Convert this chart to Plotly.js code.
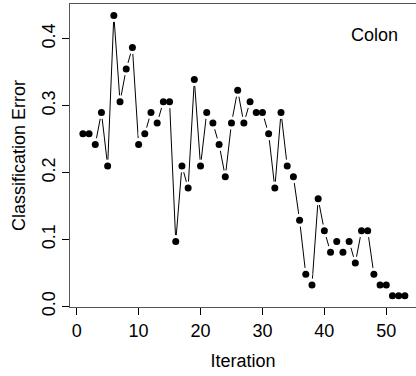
<!DOCTYPE html>
<html>
<head>
<meta charset="utf-8">
<script src="https://cdn.plot.ly/plotly-3.0.1.min.js"></script>
<style>html,body{margin:0;padding:0;background:#fff;}#chart{width:416px;height:376px;}</style>
</head>
<body>
<div id="chart"></div>
<script>
const iteration = [1,2,3,4,5,6,7,8,9,10,11,12,13,14,15,16,17,18,19,20,21,22,23,24,25,26,27,28,29,30,31,32,33,34,35,36,37,38,39,40,41,42,43,44,45,46,47,48,49,50,51,52,53];
const classError = [0.258,0.258,0.242,0.290,0.210,0.435,0.306,0.355,0.387,0.242,
  0.258,0.290,0.274,0.306,0.306,0.097,0.210,0.177,0.339,0.210,
  0.290,0.274,0.242,0.194,0.274,0.323,0.274,0.306,0.290,0.290,
  0.258,0.177,0.290,0.210,0.194,0.129,0.048,0.032,0.161,0.113,
  0.081,0.097,0.081,0.097,0.065,0.113,0.113,0.048,0.032,0.032,
  0.016,0.016,0.016];
const xTicks = [0,10,20,30,40,50];
const yTicks = [0,0.1,0.2,0.3,0.4];
const label = "Colon";

const font = {family: '"Liberation Sans", Arial, Helvetica, sans-serif', size: 18, color: '#000'};

const traces = [
  {x: iteration, y: classError, type: 'scatter', mode: 'lines',
   line: {color: '#000', width: 1}, hoverinfo: 'skip'},
  {x: iteration, y: classError, type: 'scatter', mode: 'markers',
   marker: {color: '#fff', size: 13, line: {width: 0}}, hoverinfo: 'skip'},
  {x: iteration, y: classError, type: 'scatter', mode: 'markers',
   marker: {color: '#000', size: 7, line: {width: 0}}}
];

const layout = {
  width: 416, height: 376,
  margin: {l: 70, r: 0, t: 4, b: 69, pad: 0},
  paper_bgcolor: '#fff', plot_bgcolor: '#fff',
  showlegend: false,
  font: font,
  xaxis: {
    range: [-1.08, 54.8], tickvals: xTicks, ticks: 'outside', ticklen: 7,
    tickcolor: '#000', tickwidth: 1, showgrid: false, zeroline: false,
    showline: true, linecolor: '#555', linewidth: 1, mirror: true,
    tickfont: font,
    title: {text: 'Iteration', font: font, standoff: 14}
  },
  yaxis: {
    range: [-0.0008, 0.452], tickvals: yTicks, tickformat: '.1f', tickangle: -90,
    ticks: 'outside', ticklen: 7, tickcolor: '#000', tickwidth: 1,
    showgrid: false, zeroline: false, showline: true, linecolor: '#555',
    linewidth: 1, tickfont: font,
    title: {text: 'Classification Error', font: font, standoff: 8}
  },
  annotations: [{
    text: label, xref: 'paper', yref: 'paper', x: 0.954, y: 0.898,
    xanchor: 'right', yanchor: 'middle', showarrow: false, font: font
  }]
};

Plotly.newPlot('chart', traces, layout, {displayModeBar: false, staticPlot: true});
</script>
</body>
</html>
